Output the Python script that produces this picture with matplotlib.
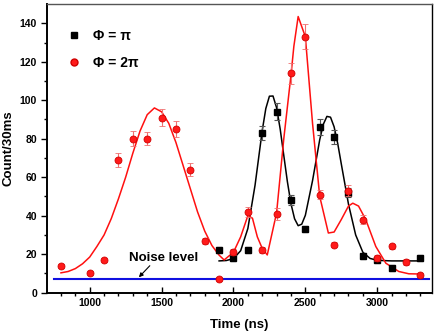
import matplotlib
matplotlib.use("Agg")
import matplotlib.pyplot as plt
from matplotlib.lines import Line2D

plt.rcParams['font.family'] = ['Liberation Sans', 'DejaVu Sans']
plt.rcParams['font.weight'] = 'bold'

# measured points, phi = pi
t_pi = [1900, 2000, 2100, 2200, 2300, 2400, 2500, 2600, 2700, 2800, 2900, 3000, 3100, 3300]
n_pi = [22, 18, 22, 83, 94, 48, 33, 86, 81, 52, 19, 17, 13, 18]
e_pi = [1.5, 1.5, 1.5, 3.8, 4.5, 2.5, 1.5, 4.3, 3.7, 2.5, 1.5, 1.5, 1.5, 1.5]

# measured points, phi = 2pi
t_2pi = [800, 1000, 1100, 1200, 1300, 1400, 1500, 1600, 1700, 1800, 1900, 2000, 2100,
         2200, 2300, 2400, 2500, 2600, 2700, 2800, 2900, 3000, 3100, 3200, 3300]
n_2pi = [14, 10, 17, 69, 80, 80, 91, 85, 64, 27, 7, 21, 42,
         22, 41, 114, 133, 51, 25, 53, 38, 18, 24, 16, 9]
e_2pi = [1, 1, 1, 3.5, 3.9, 3.5, 4.3, 4.2, 3.5, 1.5, 1, 1.5, 2.5,
         1.5, 3, 5.6, 6.6, 2.5, 1.5, 3, 2.5, 1.5, 1.5, 1.5, 1]

# fitted curves
fit_pi_t = [1900, 1950, 2000, 2050, 2100, 2150, 2200, 2225, 2250, 2275, 2300, 2325, 2350, 2375,
            2400, 2425, 2450, 2475, 2500, 2550, 2600, 2625, 2650, 2675, 2700, 2725, 2750, 2800,
            2850, 2900, 2950, 3000, 3100, 3300]
fit_pi_n = [16.5, 16.7, 17.7, 21.8, 33.3, 55.8, 84.2, 95.7, 102.1, 102.2, 96.1, 85, 71.3, 57.7,
            46.2, 38.4, 34.8, 35.6, 40.2, 58.2, 79.5, 87.5, 91.6, 91.2, 86.2, 77.6, 66.9, 46,
            30, 21, 17.8, 16.8, 16.5, 16.5]

fit_2pi_t = [800, 850, 900, 950, 1000, 1050, 1100, 1150, 1200, 1250, 1300, 1350, 1400, 1450,
             1500, 1550, 1600, 1650, 1700, 1750, 1800, 1850, 1900, 1935, 2000, 2050, 2100, 2132,
             2166, 2200, 2235, 2300, 2350, 2400, 2420, 2450, 2500, 2550, 2600, 2660, 2700, 2750,
             2800, 2830, 2870, 2920, 2990, 3060, 3150, 3220, 3300]
fit_2pi_n = [10.3, 11, 12.5, 15, 18.5, 24, 30, 38.5, 48.8, 60, 72.5, 84, 92.5, 96,
             94, 88, 78, 66, 54, 42, 32, 24.5, 19.5, 17, 21, 29, 40, 38.7,
             29, 23, 19.6, 41.5, 80, 113, 128, 143.5, 133, 88, 50, 31, 31.5, 38,
             45, 46.5, 45, 38, 24, 15.3, 11, 9.8, 9.7]

noise_t = [750, 3360]
noise_n = [7, 7]

fig = plt.figure(figsize=(4.36, 3.36), dpi=100)
ax = fig.add_axes([0.1085, 0.129, 0.882, 0.859])

ax.plot(noise_t, noise_n, color='#1010e0', lw=1.5, zorder=1)
ax.plot(fit_pi_t, fit_pi_n, color='black', lw=1.1, zorder=2)
ax.plot(fit_2pi_t, fit_2pi_n, color='#ff1010', lw=1.1, zorder=2)

ax.errorbar(t_pi, n_pi, yerr=e_pi, fmt='s', color='black', ms=4.2, mec='black',
            ecolor='#555555', elinewidth=0.8, capsize=2.5, capthick=0.8, zorder=3)
ax.errorbar(t_2pi, n_2pi, yerr=e_2pi, fmt='o', color='#ff1a1a', ms=5, mec='#d00000',
            mew=0.6, ecolor='#f07070', elinewidth=0.8, capsize=2.5, capthick=0.8, zorder=4)

# noise level label with arrow
ax.text(1516, 18.2, 'Noise level', ha='center', va='center', fontsize=9.5, fontweight='bold')
ax.annotate('', xy=(1342, 8), xytext=(1418, 14),
            arrowprops=dict(arrowstyle='-|>', color='black', lw=0.8,
                            mutation_scale=6, shrinkA=0, shrinkB=0))

ax.set_xlim(705, 3380)
ax.set_ylim(0, 150)
ax.set_xticks([1000, 1500, 2000, 2500, 3000])
ax.set_xticks(range(800, 3400, 100), minor=True)
ax.set_yticks(range(0, 141, 20))
ax.set_yticks(range(10, 150, 20), minor=True)
ax.tick_params(axis='both', which='major', labelsize=7.5, length=4, width=1)
ax.tick_params(axis='both', which='minor', length=2.5, width=1)
ax.tick_params(axis='x', direction='in')
ax.tick_params(axis='y', direction='out')
for s in ax.spines.values():
    s.set_linewidth(1.0)
ax.spines['top'].set_color('#555555')
ax.spines['left'].set_linewidth(1.4)
ax.spines['bottom'].set_linewidth(1.4)

ax.set_xlabel('Time (ns)', fontsize=9.5, fontweight='bold', labelpad=8)
ax.set_ylabel('Count/30ms', fontsize=9.5, fontweight='bold', labelpad=4)

handles = [Line2D([], [], ls='none', marker='s', color='black', ms=4.2),
           Line2D([], [], ls='none', marker='o', color='#ff1a1a', mec='#d00000', ms=5)]
ax.legend(handles, ['Φ = π', 'Φ = 2π'], loc='upper left', bbox_to_anchor=(0.014, 0.956),
          frameon=False, fontsize=10, handletextpad=0.8, labelspacing=0.9, handlelength=1.2)

fig.savefig('out.png', dpi=100)
